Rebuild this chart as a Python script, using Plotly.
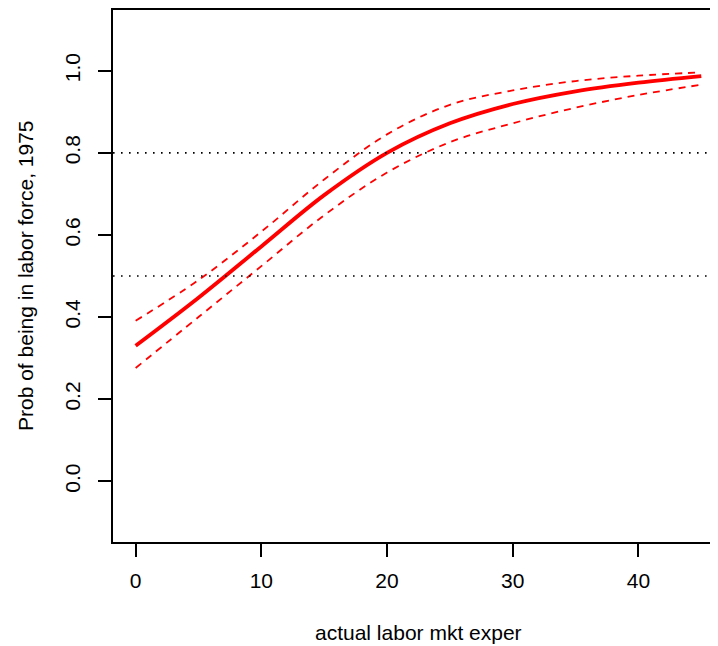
import plotly.graph_objects as go

exper = [0, 5, 10, 15, 20, 25, 30, 35, 40, 45]
prob_fit = [0.330, 0.447, 0.572, 0.697, 0.800, 0.872, 0.919, 0.950, 0.971, 0.987]
prob_upper = [0.391, 0.490, 0.608, 0.735, 0.845, 0.917, 0.952, 0.975, 0.988, 0.996]
prob_lower = [0.276, 0.400, 0.524, 0.648, 0.752, 0.826, 0.872, 0.910, 0.941, 0.966]
ref_levels = [0.5, 0.8]
x_ticks = [0, 10, 20, 30, 40]
y_ticks = [0.0, 0.2, 0.4, 0.6, 0.8, 1.0]

FONT = "Liberation Sans, Arial, Helvetica, sans-serif"
RED = "#FF0000"

fig = go.Figure()
fig.add_trace(go.Scatter(x=exper, y=prob_upper, mode="lines",
                         line=dict(color=RED, width=1.8, dash="7px,6px", shape="spline", smoothing=1.0),
                         showlegend=False, hoverinfo="skip"))
fig.add_trace(go.Scatter(x=exper, y=prob_lower, mode="lines",
                         line=dict(color=RED, width=1.8, dash="7px,6px", shape="spline", smoothing=1.0),
                         showlegend=False, hoverinfo="skip"))
fig.add_trace(go.Scatter(x=exper, y=prob_fit, mode="lines",
                         line=dict(color=RED, width=3.8, shape="spline", smoothing=1.0),
                         showlegend=False))

for lv in ref_levels:
    fig.add_shape(type="line", xref="paper", x0=0, x1=1, yref="y", y0=lv, y1=lv,
                  line=dict(color="black", width=1.6, dash="1.6px,6.4px"))

fig.update_layout(
    width=710, height=638,
    margin=dict(l=105, r=0, t=0, b=104, pad=0),
    paper_bgcolor="white", plot_bgcolor="white",
    font=dict(family=FONT, size=21, color="black"),
    showlegend=False,
    xaxis=dict(range=[-1.8, 46.33], tickvals=x_ticks, ticktext=[str(v) for v in x_ticks],
               showgrid=False, zeroline=False, showline=True, linecolor="black",
               linewidth=2, mirror=True, ticks="outside", ticklen=13, tickwidth=1.8,
               tickcolor="black", ticklabelstandoff=6,
               tickfont=dict(family=FONT, size=21, color="black")),
    yaxis=dict(range=[-0.148, 1.148], tickvals=y_ticks, ticktext=[f"{v:.1f}" for v in y_ticks],
               showgrid=False, zeroline=False, showline=True, linecolor="black",
               linewidth=2, mirror=False, ticks="outside", ticklen=13, tickwidth=1.8,
               tickcolor="black", tickangle=-90, ticklabelstandoff=10,
               tickfont=dict(family=FONT, size=21, color="black")),
    annotations=[
        dict(text="actual labor mkt exper", xref="x", x=22.5, yref="paper", y=0,
             yanchor="middle", xanchor="center", yshift=-90, showarrow=False,
             font=dict(family=FONT, size=21, color="black")),
        dict(text="Prob of being in labor force, 1975", xref="paper", x=0, xshift=-88,
             yref="paper", y=0.5, xanchor="center", yanchor="middle", textangle=-90,
             showarrow=False, font=dict(family=FONT, size=21, color="black")),
    ],
)

fig.write_html("out.html")
